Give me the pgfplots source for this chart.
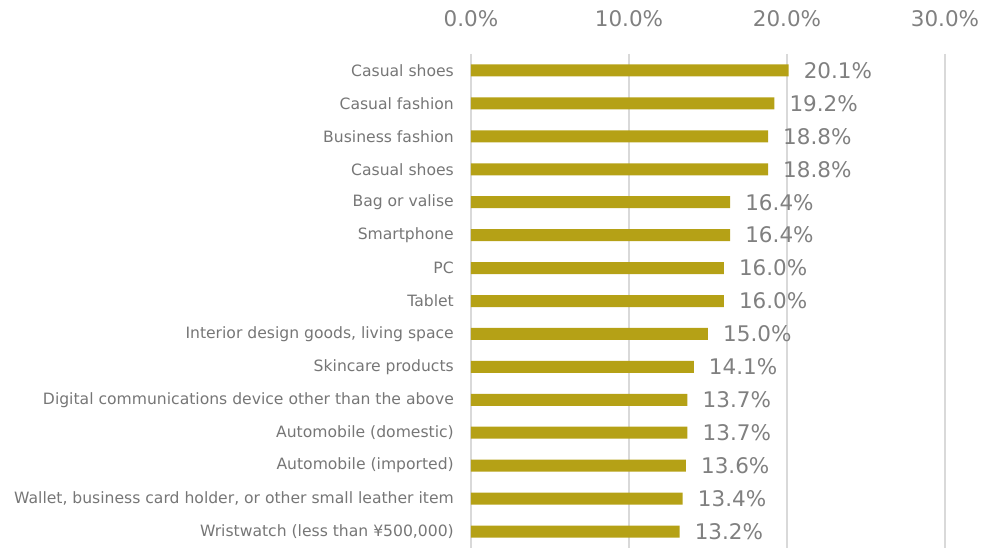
\documentclass[border=0pt]{standalone}
\usepackage{pgfplots}
\pgfplotsset{compat=1.18}
\usepackage{fontspec}
\setmainfont{DejaVu Sans}
\definecolor{barcol}{RGB}{181,161,22}
\definecolor{txtgray}{RGB}{128,128,128}
\definecolor{catgray}{RGB}{118,118,118}
\definecolor{gridgray}{RGB}{217,217,217}
\begin{document}
\begin{tikzpicture}
\path[use as bounding box] (0,0) rectangle (988pt,556pt);
\begin{axis}[
  at={(471pt,8pt)}, anchor=south west,
  scale only axis,
  width=474pt, height=494pt,
  xbar, bar width=12pt,
  xmin=0, xmax=30,
  ymin=-0.5, ymax=14.5,
  y dir=reverse,
  xtick={0,10,20,30},
  ytick={0,...,14},
  yticklabels={Casual shoes,Casual fashion,Business fashion,Casual shoes,Bag or valise,Smartphone,PC,Tablet,{Interior design goods, living space},Skincare products,Digital communications device other than the above,Automobile (domestic),Automobile (imported),{Wallet, business card holder, or other small leather item},{Wristwatch (less than ¥500,000)}},
  xticklabel pos=upper,
  xticklabel={\pgfmathprintnumber[fixed,fixed zerofill,precision=1,assume math mode=true]{\tick}\%},
  xticklabel style={anchor=base, inner sep=0pt, yshift=27pt, font=\fontsize{21.5}{24}\selectfont, text=txtgray},
  yticklabel style={anchor=east, inner sep=0pt, xshift=-17pt, font=\fontsize{15.6}{18}\selectfont, text=catgray},
  major tick length=0pt,
  axis line style={draw=none},
  xmajorgrids,
  major grid style={draw=gridgray, line width=1.3pt},
  point meta=x,
  nodes near coords={\pgfmathprintnumber[fixed,fixed zerofill,precision=1,assume math mode=true]{\pgfplotspointmeta}\%},
  every node near coord/.append style={anchor=west, inner sep=0pt, xshift=15pt, font=\fontsize{21.5}{24}\selectfont, text=txtgray},
]
\addplot[fill=barcol, draw=none] coordinates {
(20.1,0) (19.2,1) (18.8,2) (18.8,3) (16.4,4) (16.4,5) (16.0,6) (16.0,7)
(15.0,8) (14.1,9) (13.7,10) (13.7,11) (13.6,12) (13.4,13) (13.2,14)};
\end{axis}
\end{tikzpicture}
\end{document}
